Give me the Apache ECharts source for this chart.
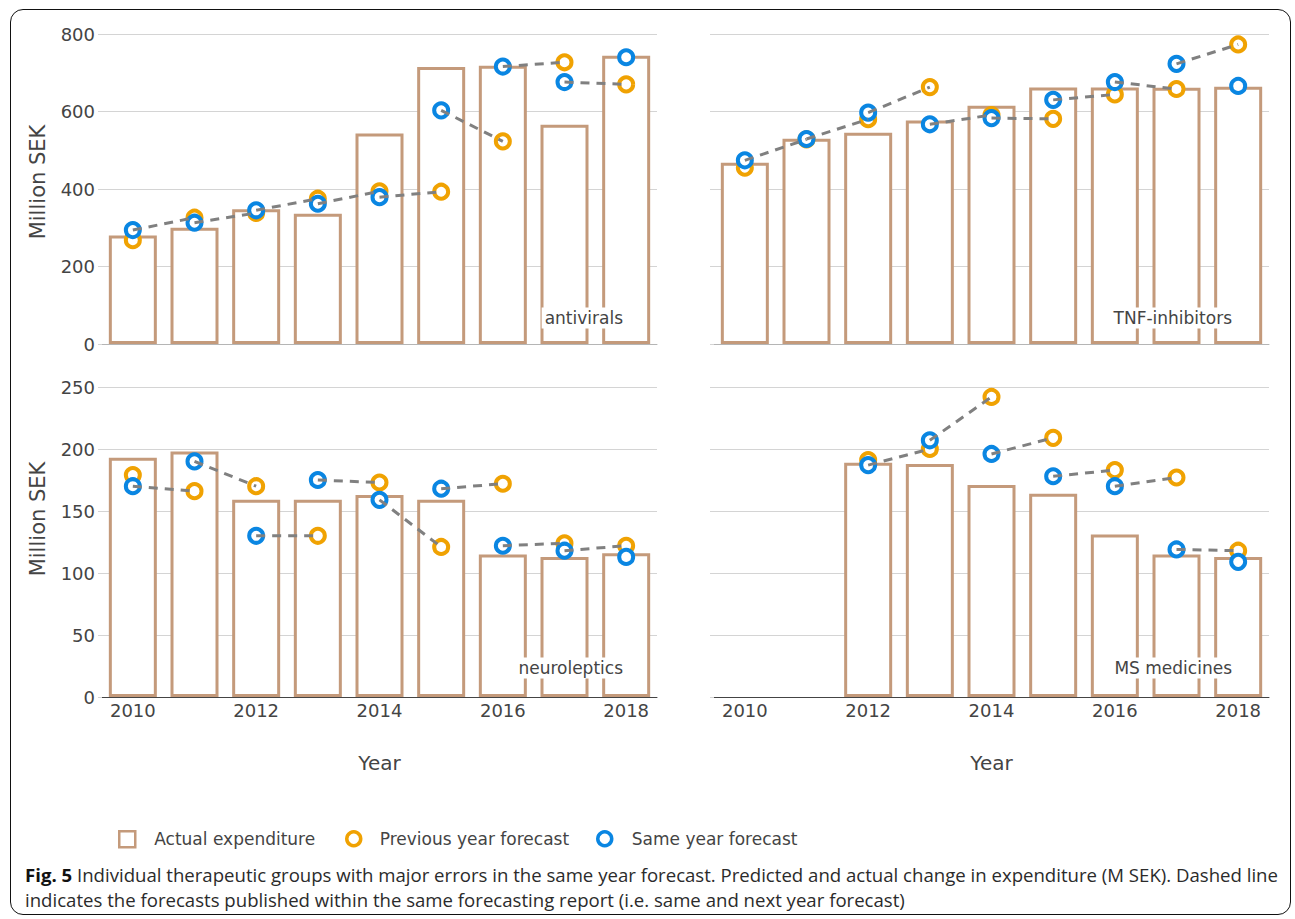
<!DOCTYPE html>
<html>
<head>
<meta charset="utf-8">
<script src="https://cdn.jsdelivr.net/npm/echarts@6/dist/echarts.min.js"></script>
<style>
  html, body { margin: 0; padding: 0; background: #fff; }
  #wrap { position: relative; width: 1295px; height: 919px; overflow: hidden; }
  #frame { position: absolute; left: 10px; top: 9px; width: 1279px; height: 904px;
           border: 1.5px solid #111; border-radius: 13px; }
  #chart { position: absolute; left: 0; top: 0; width: 1295px; height: 919px; }
  #cap { position: absolute; left: 25px; top: 862px; width: 1262px;
         font-family: "Open Sans", "Noto Sans", sans-serif; font-size: 18.6px;
         line-height: 25px; color: #2b2b2b; white-space: nowrap; }
  #cap b { color: #111; }
</style>
</head>
<body>
<div id="wrap">
  <div id="frame"></div>
  <div id="chart"></div>
  <div id="cap"><b>Fig. 5</b> Individual therapeutic groups with major errors in the same year forecast. Predicted and actual change in expenditure (M SEK). Dashed line<br>indicates the forecasts published within the same forecasting report (i.e. same and next year forecast)</div>
</div>
<script>
// Years on the shared x axis
const years = ['2010', '2011', '2012', '2013', '2014', '2015', '2016', '2017', '2018'];

// Antivirals (million SEK)
const antiviralsActual = [280, 300, 348, 336, 543, 715, 718, 566, 744];
const antiviralsPrev   = [268, 326, 338, 375, 394, 393, 523, 727, 670];
const antiviralsSame   = [294, 313, 345, 362, 379, 603, 716, 676, 740];

// TNF-inhibitors
const tnfActual = [468, 530, 545, 577, 615, 662, 662, 661, 664];
const tnfPrev   = [455, 528, 580, 663, 591, 581, 644, 658, 773];
const tnfSame   = [474, 529, 597, 567, 583, 630, 676, 723, 666];

// Neuroleptics
const neuroActual = [193, 198, 159, 159, 163, 159, 115, 113, 116];
const neuroPrev   = [179, 166, 170, 130, 173, 121, 172, 124, 122];
const neuroSame   = [170, 190, 130, 175, 159, 168, 122, 118, 113];

// MS medicines (no data before 2012)
const msActual = [null, null, 189, 188, 171, 164, 131, 115, 113];
const msPrev   = [null, null, 191, 200, 242, 209, 183, 177, 118];
const msSame   = [null, null, 187, 207, 196, 178, 170, 119, 109];

// Y tick settings per row
const topTicks = { min: 0, max: 800, interval: 200 };
const bottomTicks = { min: 0, max: 250, interval: 50 };

const panelNames = ['antivirals', 'TNF-inhibitors', 'neuroleptics', 'MS medicines'];
const yTitle = 'Million SEK';
const xTitle = 'Year';
const panels = [
  { actual: antiviralsActual, prev: antiviralsPrev, same: antiviralsSame },
  { actual: tnfActual, prev: tnfPrev, same: tnfSame },
  { actual: neuroActual, prev: neuroPrev, same: neuroSame },
  { actual: msActual, prev: msPrev, same: msSame }
];

const BAR = '#c49a7b';
const ORANGE = '#f0a202';
const BLUE = '#0a86e2';
const DASH = '#808080';
const TEXT = '#444';
const FONT = 'DejaVu Sans';

const grids = [
  { left: 102, top: 34, width: 555, height: 310 },
  { left: 714, top: 34, width: 555, height: 310 },
  { left: 102, top: 387, width: 555, height: 310 },
  { left: 714, top: 387, width: 555, height: 310 }
];

const xAxes = [], yAxes = [], series = [];
grids.forEach((g, i) => {
  const bottom = i >= 2;
  const left = i % 2 === 0;
  const ticks = bottom ? bottomTicks : topTicks;
  xAxes.push({
    type: 'category', gridIndex: i, data: years, boundaryGap: true,
    axisTick: { show: false },
    axisLine: { lineStyle: { color: bottom ? '#444' : '#b5b5b5', width: 1 } },
    axisLabel: { show: bottom, interval: 1, color: TEXT, fontFamily: FONT, fontSize: 18, margin: 4 },
    name: bottom ? xTitle : '', nameLocation: 'middle', nameGap: 56,
    nameTextStyle: { color: TEXT, fontFamily: FONT, fontSize: 20 }
  });
  yAxes.push({
    type: 'value', gridIndex: i, min: ticks.min, max: ticks.max, interval: ticks.interval,
    axisLine: { show: false },
    axisTick: { show: true, length: 4, lineStyle: { color: '#d4d4d4' } },
    axisLabel: { show: left, color: TEXT, fontFamily: FONT, fontSize: 18, margin: 7 },
    splitLine: { lineStyle: { color: '#d4d4d4', width: 1 } }
  });

  const p = panels[i];
  series.push({
    name: 'Actual expenditure', type: 'bar', xAxisIndex: i, yAxisIndex: i,
    data: p.actual, barWidth: 48,
    itemStyle: { color: '#fff', borderColor: BAR, borderWidth: 3 },
    emphasis: { disabled: true }, z: 1
  });
  series.push({
    name: 'Previous year forecast', type: 'scatter', xAxisIndex: i, yAxisIndex: i,
    data: p.prev, symbol: 'circle', symbolSize: 14,
    itemStyle: { color: '#fff', borderColor: ORANGE, borderWidth: 4, opacity: 1 },
    emphasis: { disabled: true }, z: 3
  });
  series.push({
    name: 'Same year forecast', type: 'scatter', xAxisIndex: i, yAxisIndex: i,
    data: p.same, symbol: 'circle', symbolSize: 14,
    itemStyle: { color: '#fff', borderColor: BLUE, borderWidth: 4, opacity: 1 },
    emphasis: { disabled: true }, z: 4
  });
  // Each forecasting report: same-year forecast (year t) joined to next-year forecast (year t+1)
  for (let t = 0; t < years.length - 1; t++) {
    if (p.same[t] == null || p.prev[t + 1] == null) continue;
    series.push({
      type: 'line', xAxisIndex: i, yAxisIndex: i,
      data: [[t, p.same[t]], [t + 1, p.prev[t + 1]]],
      symbol: 'none', silent: true, z: 6,
      lineStyle: { color: DASH, width: 3, type: [9, 7] }
    });
  }
});

// Group name tags in the lower-right of each panel
const tagPos = [[625, 318], [1234, 318], [625, 668], [1234, 668]];
const graphics = panelNames.map((n, i) => ({
  type: 'text', x: tagPos[i][0], y: tagPos[i][1], z: 100,
  style: {
    text: n, align: 'right', verticalAlign: 'middle',
    fill: TEXT, fontFamily: FONT, fontSize: 17,
    backgroundColor: '#fff', padding: [2, 2, 2, 3]
  }
}));
// Vertical axis titles for the two rows
[182, 519].forEach(cy => graphics.push({
  type: 'text', x: 38, y: cy, rotation: Math.PI / 2,
  style: {
    text: yTitle, align: 'center', verticalAlign: 'middle',
    fill: TEXT, fontFamily: FONT, fontSize: 21
  }
}));

function legendBox(name, left, size, pad, style) {
  return {
    data: [{ name: name, icon: style.icon, itemStyle: style.itemStyle }],
    left: left, top: 830, orient: 'horizontal', padding: 0,
    itemWidth: size, itemHeight: size, selectedMode: false,
    textStyle: { color: TEXT, fontFamily: FONT, fontSize: 17, padding: [0, 0, 0, pad] }
  };
}

const chart = echarts.init(document.getElementById('chart'), null, { renderer: 'svg' });
chart.setOption({
  animation: false,
  backgroundColor: 'transparent',
  grid: grids,
  xAxis: xAxes,
  yAxis: yAxes,
  legend: [
    legendBox('Actual expenditure', 118, 16, 14,
      { icon: 'rect', itemStyle: { color: '#fff', borderColor: BAR, borderWidth: 2.5 } }),
    legendBox('Previous year forecast', 345, 14, 14,
      { icon: 'circle', itemStyle: { color: '#fff', borderColor: ORANGE, borderWidth: 3.5 } }),
    legendBox('Same year forecast', 596, 14, 15,
      { icon: 'circle', itemStyle: { color: '#fff', borderColor: BLUE, borderWidth: 3.5 } })
  ],
  graphic: graphics,
  series: series
});
</script>
</body>
</html>
